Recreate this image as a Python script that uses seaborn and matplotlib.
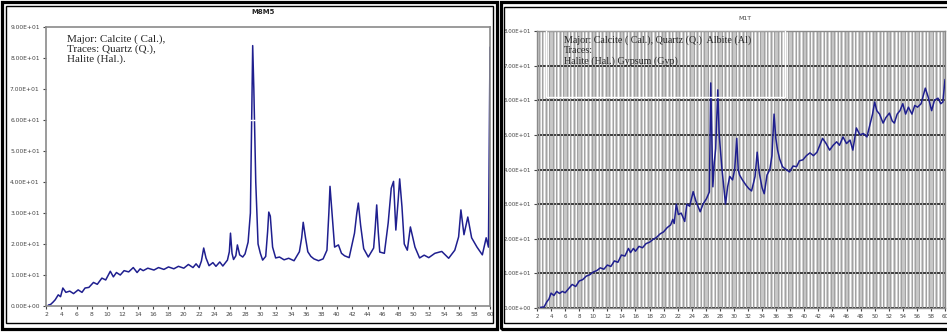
import matplotlib
matplotlib.use("Agg")
import matplotlib.pyplot as plt
import matplotlib.patches as mpatches
from matplotlib.ticker import MultipleLocator, FuncFormatter
import numpy as np
import pandas as pd
import seaborn as sns

# data - left sample (M8M5), 2-theta vs counts
left_x = [2.3, 2.6, 2.9, 3.2, 3.6, 3.9, 4.2, 4.6, 5.1, 5.6,
          6.2, 6.7, 7.1, 7.6, 8.2, 8.7, 9.3, 9.8, 10.4, 10.8,
          11.2, 11.7, 12.2, 12.8, 13.4, 13.9, 14.3, 14.7, 15.3, 16.1,
          16.7, 17.4, 18.0, 18.7, 19.3, 20.0, 20.6, 21.2, 21.6, 22.0,
          22.3, 22.6, 22.9, 23.3, 23.8, 24.2, 24.7, 25.1, 25.7, 25.95,
          26.1, 26.3, 26.5, 26.8, 27.0, 27.3, 27.7, 28.0, 28.4, 28.7,
          28.85, 29.0, 29.15, 29.4, 29.7, 30.0, 30.3, 30.7, 30.95, 31.1,
          31.3, 31.6, 32.0, 32.5, 33.1, 33.7, 34.4, 35.1, 35.4, 35.6,
          35.9, 36.2, 36.6, 37.0, 37.6, 38.2, 38.7, 38.95, 39.1, 39.3,
          39.7, 40.2, 40.6, 41.0, 41.6, 42.3, 42.6, 42.8, 43.1, 43.5,
          44.1, 44.8, 45.0, 45.2, 45.4, 45.6, 46.2, 46.7, 47.1, 47.4,
          47.7, 48.0, 48.2, 48.5, 48.8, 49.2, 49.6, 50.2, 50.8, 51.4,
          52.0, 52.8, 53.7, 54.6, 55.4, 55.9, 56.2, 56.6, 57.1, 57.6,
          58.3, 59.0, 59.5, 59.8, 60.0]
left_y = [0.3, 0.5, 1.2, 2.0, 3.6, 3.0, 5.8, 4.4, 4.8, 4.0,
          5.2, 4.4, 5.8, 6.0, 7.6, 7.0, 9.0, 8.4, 11.2, 9.4,
          10.8, 10.0, 11.4, 11.0, 12.4, 10.8, 12.0, 11.4, 12.2, 11.6,
          12.4, 11.8, 12.6, 12.0, 12.8, 12.2, 13.4, 12.4, 13.6, 12.4,
          14.5, 18.7, 15.5, 13.0, 14.0, 12.8, 14.2, 12.9, 14.8, 17.5,
          23.5, 17.0, 15.0, 16.2, 19.7, 16.5, 15.8, 16.8, 20.6, 30.0,
          58.0, 84.0, 70.0, 40.0, 20.0, 17.0, 14.8, 16.0, 24.0, 30.3,
          29.0, 19.0, 15.5, 15.8, 14.9, 15.4, 14.6, 17.5, 22.0, 27.0,
          22.0, 17.5, 16.0, 15.2, 14.6, 15.2, 18.0, 30.0, 38.6, 32.0,
          19.0, 19.7, 17.0, 16.2, 15.6, 23.5, 30.0, 33.2, 26.0, 18.5,
          15.8, 18.7, 25.0, 32.6, 24.0, 17.4, 17.0, 26.8, 38.0, 40.2,
          24.5, 34.0, 41.0, 32.0, 20.0, 18.0, 25.5, 19.0, 15.5, 16.4,
          15.6, 17.0, 17.6, 15.4, 18.0, 22.3, 31.0, 23.0, 28.7, 22.0,
          19.0, 16.5, 22.0, 19.0, 83.5]

# data - right sample (M1T)
right_x = [2.5, 3.0, 3.4, 3.7, 4.0, 4.4, 4.8, 5.2, 5.6, 6.0,
           6.5, 7.0, 7.5, 8.0, 8.5, 9.0, 9.5, 10.0, 10.5, 11.0,
           11.5, 12.0, 12.5, 13.0, 13.5, 14.0, 14.5, 15.0, 15.3, 15.7,
           16.0, 16.5, 17.0, 17.5, 18.0, 18.5, 19.0, 19.5, 20.0, 20.5,
           21.0, 21.3, 21.5, 21.8, 22.1, 22.5, 23.0, 23.3, 23.7, 24.2,
           24.6, 25.2, 25.6, 26.1, 26.5, 26.7, 26.85, 27.0, 27.2, 27.4,
           27.7, 27.9, 28.3, 28.6, 28.8, 29.1, 29.4, 29.8, 30.1, 30.4,
           30.6, 30.8, 31.2, 31.7, 32.1, 32.5, 33.0, 33.3, 33.6, 34.0,
           34.3, 34.7, 35.1, 35.4, 35.7, 35.95, 36.2, 36.5, 36.9, 37.4,
           37.9, 38.4, 38.9, 39.3, 39.8, 40.3, 40.8, 41.3, 41.8, 42.2,
           42.6, 43.1, 43.6, 44.1, 44.6, 45.0, 45.5, 46.0, 46.5, 46.9,
           47.4, 47.9, 48.4, 48.9, 49.4, 49.7, 50.0, 50.3, 50.7, 51.2,
           51.6, 52.1, 52.5, 52.8, 53.2, 53.6, 54.0, 54.4, 54.8, 55.3,
           55.7, 56.1, 56.6, 57.2, 57.6, 58.1, 58.5, 59.0, 59.4, 59.7,
           60.0]
right_y = [0.2, 0.3, 1.8, 2.6, 4.3, 3.6, 4.8, 4.2, 4.8, 4.4,
           5.6, 6.8, 6.2, 7.8, 8.2, 9.2, 9.6, 10.4, 10.8, 11.6,
           11.2, 12.4, 12.0, 13.6, 13.2, 15.3, 15.0, 17.2, 16.0, 17.2,
           16.4, 17.8, 17.4, 18.6, 19.0, 19.8, 20.4, 21.4, 22.0, 23.2,
           24.0, 25.6, 24.4, 30.0, 27.0, 27.4, 25.0, 30.0, 29.4, 33.6,
           30.8, 27.8, 30.0, 31.6, 33.5, 65.0, 50.0, 35.0, 42.0, 46.0,
           63.0, 50.0, 40.0, 34.0, 30.0, 35.0, 38.0, 37.0, 40.0, 49.0,
           40.0, 38.4, 37.0, 35.5, 34.5, 33.8, 38.0, 45.0, 39.0, 34.7,
           33.0, 38.4, 40.0, 44.0, 56.0, 49.0, 45.6, 43.0, 40.8, 40.0,
           39.3, 41.0, 40.8, 42.5, 42.8, 44.0, 44.8, 44.0, 45.0, 47.0,
           49.0, 47.5, 45.6, 47.0, 48.0, 47.0, 49.4, 47.5, 48.5, 45.6,
           52.0, 50.0, 50.4, 49.4, 53.5, 56.0, 59.5, 57.0, 56.0, 53.4,
           55.0, 56.3, 54.0, 53.4, 56.0, 57.0, 59.0, 56.0, 58.0, 56.0,
           58.5, 58.0, 59.0, 63.5, 61.0, 57.0, 60.0, 60.6, 59.0, 59.5,
           66.0]

x_ticks = list(range(2, 61, 2))
left_title = "M8M5"
right_title = "M1T"
left_note = "Major: Calcite ( Cal.),\nTraces: Quartz (Q.),\nHalite (Hal.)."
right_note = "Major: Calcite ( Cal.), Quartz (Q.)  Albite (Al)\nTraces:\nHalite (Hal.) Gypsum (Gyp)"

left_df = pd.DataFrame({"2theta": left_x, "counts": left_y})
right_df = pd.DataFrame({"2theta": right_x, "counts": right_y})

sns.set_style("white")
W, H = 947, 336
fig = plt.figure(figsize=(W / 100, H / 100), dpi=100)


def fx(px):
    return px / W


def fy(py):
    return 1 - py / H


line_col = "#1f1f8f"
sci = FuncFormatter(lambda v, p: "{:.2E}".format(v))

# ---- left panel
ax1 = fig.add_axes([fx(46), fy(306), fx(490) - fx(46), fy(27) - fy(306)])
sns.lineplot(data=left_df, x="2theta", y="counts", ax=ax1, color=line_col,
             lw=1.1, sort=False, zorder=1.5)
ax1.set_xlim(2, 60)
ax1.set_ylim(0, 90)
ax1.set_xticks(x_ticks)
ax1.set_yticks(np.arange(0, 91, 10))
ax1.yaxis.set_major_formatter(sci)
ax1.set_xlabel("")
ax1.set_ylabel("")
for s in ax1.spines.values():
    s.set_color("#8a8a8a")
    s.set_linewidth(1.2)
ax1.tick_params(axis="both", labelsize=4.3, colors="#444444", length=2.5,
                width=0.8, direction="out", pad=2, bottom=True, left=True)
ax1.set_title(left_title, fontsize=5, fontweight="bold", pad=9, x=0.49)
ax1.add_patch(mpatches.Rectangle((2.5, 60), 33.8, 30, fill=False,
                                 ec="white", lw=1.0, zorder=2))
ax1.text(4.8, 87.5, left_note, fontsize=8, family="Liberation Serif",
         va="top", ha="left", linespacing=1.05, zorder=6)

# ---- right panel
ax2 = fig.add_axes([fx(537), fy(308), fx(945) - fx(537), fy(31) - fy(308)])
ax2.set_facecolor("#c8c8c8")
sns.lineplot(data=right_df, x="2theta", y="counts", ax=ax2, color=line_col,
             lw=1.1, sort=False, zorder=4)
ax2.set_xlim(2, 60)
ax2.set_ylim(0, 80)
ax2.set_xticks(x_ticks)
ax2.set_yticks(np.arange(0, 81, 10))
ax2.yaxis.set_major_formatter(sci)
ax2.xaxis.set_minor_locator(MultipleLocator(0.5))
ax2.grid(which="minor", axis="x", color="white", lw=1.0, zorder=1)
ax2.vlines(np.arange(2.25, 60, 0.5), 0, 80, color="#a2a2a2", lw=0.8, zorder=1)
ax2.grid(which="major", axis="y", color="#3c3c3c", lw=1.4, zorder=2)
ax2.set_axisbelow(True)
ax2.set_xlabel("")
ax2.set_ylabel("")
for s in ax2.spines.values():
    s.set_color("#8a8a8a")
    s.set_linewidth(1.0)
ax2.tick_params(axis="both", which="major", labelsize=4.0, colors="#444444",
                length=2.5, width=0.8, direction="out", pad=2,
                bottom=True, left=True)
ax2.tick_params(axis="x", which="minor", length=0)
ax2.set_title(right_title, fontsize=4.5, pad=8, x=0.51, color="#444444")
ax2.add_patch(mpatches.Rectangle((3.3, 61), 33.9, 19.3, fill=False,
                                 ec="white", lw=1.0, zorder=5))
ax2.text(5.8, 78.8, right_note, fontsize=7.2, family="Liberation Serif",
         va="top", ha="left", linespacing=1.2, zorder=6)

# ---- panel frames
def frame(x0, y0, x1, y1, lw):
    fig.patches.append(mpatches.Rectangle((fx(x0), fy(y1)), fx(x1) - fx(x0),
                                          fy(y0) - fy(y1), fill=False,
                                          ec="black", lw=lw,
                                          transform=fig.transFigure,
                                          figure=fig))


frame(1.5, 1.5, 497, 329, 2.3)
frame(6, 6, 492.5, 323, 1.0)
frame(500.5, 1.5, 952, 329, 2.3)
frame(504, 7, 952, 323, 1.0)

fig.savefig("out.png", dpi=100)
